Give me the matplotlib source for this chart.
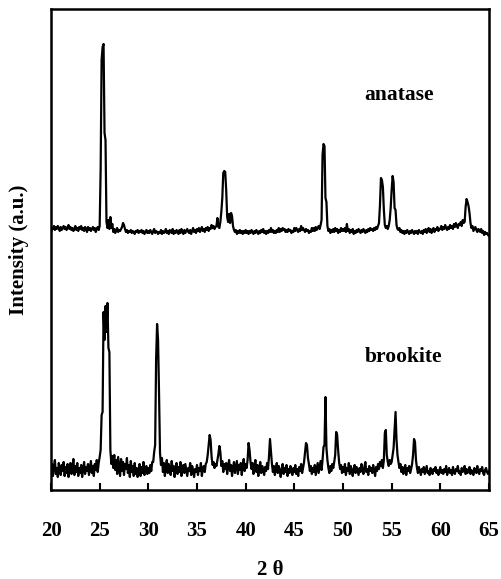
import numpy as np
import matplotlib
matplotlib.use("Agg")
import matplotlib.pyplot as plt

# scan: 20..65 deg 2theta, 0.1 deg step (arbitrary units)
two_theta = np.round(np.arange(20.0, 65.05, 0.1), 1)

anatase_counts = [
    17, 22, 21, 24, 20, 23, 21, 24, 22, 19,   # 20
    23, 20, 22, 24, 21, 23, 20, 22, 25, 21,   # 21
    23, 20, 22, 19, 21, 24, 20, 22, 19, 23,   # 22
    21, 24, 20, 22, 19, 23, 21, 18, 23, 20,   # 23
    22, 19, 21, 23, 20, 22, 18, 21, 23, 20,   # 24
    24, 80, 190, 203, 206, 117, 110, 28, 22, 30,   # 25
    21, 33, 22, 26, 18, 21, 17, 20, 22, 18,   # 26
    20, 19, 21, 23, 27, 25, 21, 18, 20, 17,   # 27
    19, 18, 20, 17, 19, 18, 16, 19, 18, 20,   # 28
    17, 19, 18, 20, 17, 19, 16, 18, 20, 17,   # 29
    19, 17, 20, 18, 16, 19, 21, 17, 19, 18,   # 30
    16, 18, 17, 20, 16, 19, 17, 18, 21, 17,   # 31
    19, 16, 20, 18, 17, 21, 16, 19, 17, 20,   # 32
    18, 16, 20, 17, 21, 18, 16, 20, 17, 19,   # 33
    21, 18, 17, 20, 16, 19, 22, 18, 20, 17,   # 34
    21, 19, 22, 18, 20, 23, 19, 21, 18, 22,   # 35
    20, 23, 19, 22, 21, 25, 22, 24, 21, 23,   # 36
    24, 32, 23, 22, 28, 38, 52, 77, 79, 78,   # 37
    60, 33, 28, 36, 27, 37, 34, 24, 20, 18,   # 38
    20, 16, 19, 17, 20, 17, 19, 16, 19, 17,   # 39
    20, 17, 19, 16, 19, 17, 20, 18, 16, 19,   # 40
    17, 20, 18, 16, 19, 17, 20, 18, 21, 17,   # 41
    19, 16, 19, 17, 20, 18, 22, 18, 20, 17,   # 42
    19, 17, 20, 18, 22, 18, 21, 19, 22, 20,   # 43
    21, 18, 20, 18, 21, 19, 20, 17, 19, 18,   # 44
    22, 19, 22, 20, 18, 21, 19, 24, 20, 22,   # 45
    20, 18, 21, 19, 20, 17, 19, 18, 22, 19,   # 46
    22, 19, 23, 20, 22, 24, 21, 25, 30, 95,   # 47
    106, 104, 52, 48, 24, 19, 21, 17, 20, 18,   # 48
    21, 18, 22, 19, 21, 17, 20, 18, 22, 19,   # 49
    21, 19, 22, 18, 26, 19, 21, 17, 20, 18,   # 50
    21, 16, 19, 17, 20, 18, 21, 19, 17, 20,   # 51
    18, 21, 19, 17, 20, 18, 21, 19, 22, 20,   # 52
    21, 19, 22, 20, 23, 21, 24, 27, 45, 72,   # 53
    70, 63, 40, 25, 22, 24, 21, 24, 30, 42,   # 54
    60, 74, 68, 42, 40, 25, 21, 20, 22, 18,   # 55
    20, 17, 19, 16, 19, 17, 20, 18, 16, 19,   # 56
    17, 20, 18, 16, 19, 17, 19, 16, 20, 18,   # 57
    17, 19, 16, 20, 18, 21, 17, 19, 22, 18,   # 58
    21, 17, 19, 22, 18, 21, 20, 23, 19, 21,   # 59
    21, 24, 20, 23, 21, 25, 22, 20, 23, 21,   # 60
    25, 22, 24, 21, 26, 23, 27, 24, 22, 26,   # 61
    25, 28, 24, 30, 27, 28, 43, 51, 48, 44,   # 62
    37, 27, 22, 24, 19, 21, 23, 20, 18, 21,   # 63
    20, 18, 21, 17, 19, 15, 18, 16, 17, 15,   # 64
    14,
]

brookite_counts = [
    18, 26, 14, 24, 30, 16, 22, 13, 27, 20,   # 20
    15, 25, 19, 28, 14, 23, 17, 26, 13, 21,   # 21
    27, 16, 22, 31, 15, 24, 18, 27, 14, 22,   # 22
    17, 25, 13, 21, 28, 16, 23, 19, 26, 15,   # 23
    22, 29, 17, 24, 14, 26, 20, 30, 18, 27,   # 24
    33, 40, 75, 78, 178, 150, 184, 158, 187, 142,   # 25
    138, 40, 26, 34, 22, 35, 20, 30, 16, 33,   # 26
    24, 14, 31, 19, 28, 15, 26, 21, 32, 17,   # 27
    25, 13, 29, 18, 24, 14, 27, 16, 22, 13,   # 28
    20, 26, 14, 23, 17, 28, 15, 21, 24, 16,   # 29
    22, 17, 25, 19, 28, 28, 38, 45, 131, 166,   # 30
    150, 97, 37, 25, 32, 18, 27, 14, 24, 30,   # 31
    17, 26, 21, 15, 29, 19, 24, 13, 22, 27,   # 32
    16, 23, 18, 28, 14, 21, 25, 17, 26, 20,   # 33
    14, 22, 19, 27, 15, 24, 20, 13, 21, 18,   # 34
    25, 15, 22, 19, 27, 14, 21, 24, 18, 26,   # 35
    28, 35, 45, 55, 50, 33, 25, 28, 22, 26,   # 36
    24, 30, 36, 44, 38, 24, 29, 18, 26, 21,   # 37
    27, 16, 24, 30, 19, 25, 14, 22, 28, 17,   # 38
    23, 29, 16, 25, 20, 27, 15, 24, 31, 19,   # 39
    26, 22, 30, 47, 40, 28, 21, 27, 16, 24,   # 40
    30, 18, 25, 14, 22, 28, 17, 24, 20, 15,   # 41
    23, 19, 27, 21, 34, 51, 38, 26, 18, 24,   # 42
    15, 22, 27, 17, 24, 20, 13, 21, 26, 16,   # 43
    22, 18, 25, 14, 21, 17, 24, 19, 15, 22,   # 44
    18, 25, 16, 21, 14, 23, 19, 26, 17, 22,   # 45
    28, 38, 47, 45, 32, 26, 19, 24, 16, 22,   # 46
    18, 25, 15, 21, 27, 17, 23, 29, 20, 30,   # 47
    43, 45, 93, 42, 30, 22, 17, 24, 19, 26,   # 48
    22, 28, 35, 58, 55, 40, 28, 21, 25, 17,   # 49
    23, 18, 26, 15, 22, 19, 27, 16, 24, 20,   # 50
    14, 21, 25, 17, 23, 19, 15, 22, 18, 26,   # 51
    20, 16, 23, 28, 18, 21, 15, 24, 19, 22,   # 52
    17, 25, 20, 14, 23, 19, 26, 21, 28, 24,   # 53
    30, 22, 30, 57, 60, 35, 28, 24, 30, 26,   # 54
    28, 35, 42, 60, 78, 50, 35, 28, 22, 26,   # 55
    18, 23, 16, 21, 25, 15, 22, 19, 24, 17,   # 56
    21, 26, 35, 51, 48, 30, 22, 17, 23, 19,   # 57
    15, 21, 18, 23, 16, 20, 24, 17, 19, 15,   # 58
    22, 18, 16, 21, 19, 23, 17, 20, 15, 19,   # 59
    23, 17, 20, 16, 21, 18, 24, 15, 19, 22,   # 60
    17, 20, 15, 23, 18, 16, 21, 19, 24, 17,   # 61
    19, 15, 22, 18, 20, 24, 16, 21, 17, 19,   # 62
    23, 16, 20, 18, 15, 22, 19, 17, 24, 18,   # 63
    16, 21, 19, 23, 17, 15, 20, 22, 18, 16,   # 64
    19,
]

x_ticks = [20, 25, 30, 35, 40, 45, 50, 55, 60, 65]
anatase_offset = 240

plt.rcParams['font.family'] = ['Liberation Serif', 'DejaVu Serif']
plt.rcParams['font.weight'] = 'bold'

fig = plt.figure(figsize=(5.01, 5.79), dpi=100)
ax = fig.add_axes([0.1018, 0.1537, 0.8742, 0.8308])

ax.plot(two_theta, np.array(anatase_counts) + anatase_offset, color='black', lw=1.6)
ax.plot(two_theta, brookite_counts, color='black', lw=1.6)

ax.text(52.2, 395, 'anatase', fontsize=15.5, fontweight='bold', va='center')
ax.text(52.2, 133, 'brookite', fontsize=15.5, fontweight='bold', va='center')

ax.set_xlim(20, 65)
ax.set_ylim(0, 481)
ax.set_xticks(x_ticks)
ax.set_yticks([])
ax.tick_params(axis='x', direction='in', length=5, width=1.5, pad=22, labelsize=15)
for lbl in ax.get_xticklabels():
    lbl.set_fontweight('bold')
for sp in ax.spines.values():
    sp.set_linewidth(1.8)

ax.set_xlabel('2 θ', fontsize=15, fontweight='bold', labelpad=14)
ax.set_ylabel('Intensity (a.u.)', fontsize=15, fontweight='bold', labelpad=16)

fig.savefig('out.png', dpi=100)
